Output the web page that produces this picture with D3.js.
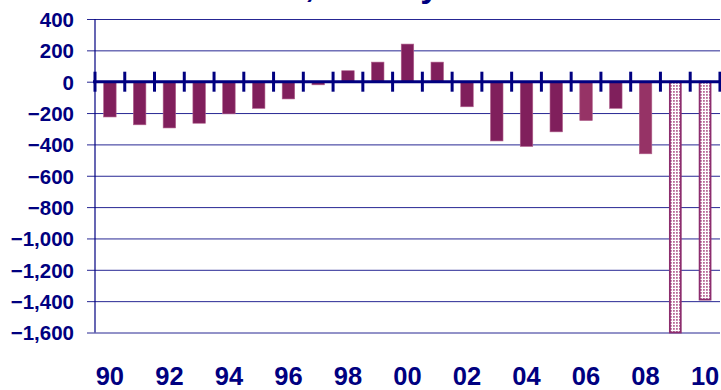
<!DOCTYPE html>
<html>
<head>
<meta charset="utf-8">
<script src="https://cdn.jsdelivr.net/npm/d3@7/dist/d3.min.js"></script>
<style>
  html, body { margin: 0; padding: 0; background: #ffffff; }
  svg { display: block; }
  text { font-family: "Liberation Sans", Arial, sans-serif; font-weight: bold; fill: #000080; }
</style>
</head>
<body>
<svg id="chart" width="721" height="390"></svg>
<script>
// Annual balance, billions of dollars (1990–2010)
const years = d3.range(1990, 2011);
const values = [-225, -275, -295, -265, -205, -170, -110, -20, 70, 125, 240, 125,
                -160, -378, -413, -320, -248, -170, -460, -1600, -1390];
// bar styling groups: actual (dark), estimate (lighter), projection (dotted)
const kinds = ["a","a","a","a","a","a","a","a","a","a","a","a",
               "a","a","a","a","e","a","e","p","p"];
const yTicks = [400, 200, 0, -200, -400, -600, -800, -1000, -1200, -1400, -1600];
const xLabels = ["90","92","94","96","98","00","02","04","06","08","10"];
const titleText = "Federal Deficit, fiscal year";

const navy = "#000080";
const svg = d3.select("#chart");

const plotLeft = 95, plotRight = 720, plotTop = 19, plotBottom = 332.5;

const x = d3.scaleBand().domain(years).range([plotLeft, plotLeft + 29.76 * years.length])
  .paddingInner(0.58).paddingOuter(0.29);
const y = d3.scaleLinear().domain([-1600, 400]).range([plotBottom, plotTop]);
const step = x.step();

// pattern for projected bars
const defs = svg.append("defs");
const pat = defs.append("pattern").attr("id", "dots")
  .attr("patternUnits", "userSpaceOnUse").attr("width", 3).attr("height", 3);
pat.append("rect").attr("width", 3).attr("height", 3).attr("fill", "#ffffff");
pat.append("rect").attr("x", 1).attr("y", 1).attr("width", 1.8).attr("height", 1.8).attr("fill", "#b86a98");

// title, sitting above the top edge of the page
const title = svg.append("text").attr("y", -3).style("font-size", "34px").text(titleText);
const ci = titleText.indexOf(",");
const cpos = title.node().getStartPositionOfChar(ci).x;
title.attr("x", 305 - cpos);

// gridlines with left ticks
const yAxis = d3.axisLeft(y).tickValues(yTicks).tickSize(-(plotRight - plotLeft)).tickSizeOuter(0)
  .tickFormat(d3.format(","));
const gy = svg.append("g").attr("transform", `translate(${plotLeft},0)`).call(yAxis);
gy.select(".domain").remove();
gy.selectAll(".tick line").attr("x1", -8).attr("stroke", navy).attr("stroke-width", 1)
  .attr("stroke-opacity", 0.85);
gy.selectAll(".tick text").attr("x", -21).attr("dy", "0.36em")
  .style("font-size", "20.5px").style("font-family", "Liberation Sans, Arial, sans-serif")
  .style("font-weight", "bold").attr("fill", navy);

// vertical axis line
svg.append("line").attr("x1", plotLeft).attr("x2", plotLeft).attr("y1", y(400)).attr("y2", y(-1600))
  .attr("stroke", navy).attr("stroke-width", 1.2);

// bars
const colorOf = k => k === "a" ? "#801f5c" : "#963366";
svg.append("g").selectAll("rect").data(years).join("rect")
  .attr("x", (d, i) => x(d) + (kinds[i] === "p" ? 0.8 : 0))
  .attr("y", (d, i) => y(Math.max(0, values[i])))
  .attr("width", (d, i) => x.bandwidth() - (kinds[i] === "p" ? 1.6 : 0))
  .attr("height", (d, i) => Math.abs(y(values[i]) - y(0)))
  .attr("fill", (d, i) => kinds[i] === "p" ? "url(#dots)" : colorOf(kinds[i]))
  .attr("stroke", (d, i) => kinds[i] === "p" ? "#8c2d6e" : "#b0608c")
  .attr("stroke-width", (d, i) => kinds[i] === "p" ? 1.8 : 0.6);

// zero line with category boundary ticks
const zero = y(0);
svg.append("line").attr("x1", plotLeft - 2).attr("x2", plotRight + 1).attr("y1", zero).attr("y2", zero)
  .attr("stroke", navy).attr("stroke-width", 3);
const bounds = d3.range(years.length + 1).map(i => plotLeft + i * step);
svg.append("g").selectAll("line").data(bounds).join("line")
  .attr("x1", d => d).attr("x2", d => d)
  .attr("y1", zero - 10).attr("y2", zero + 10)
  .attr("stroke", navy).attr("stroke-width", 3);

// year labels every other year
svg.append("g").selectAll("text").data(xLabels).join("text")
  .attr("x", (d, i) => x(years[i * 2]) + x.bandwidth() / 2)
  .attr("y", 385)
  .attr("text-anchor", "middle")
  .style("font-size", "25.5px")
  .text(d => d);
</script>
</body>
</html>
